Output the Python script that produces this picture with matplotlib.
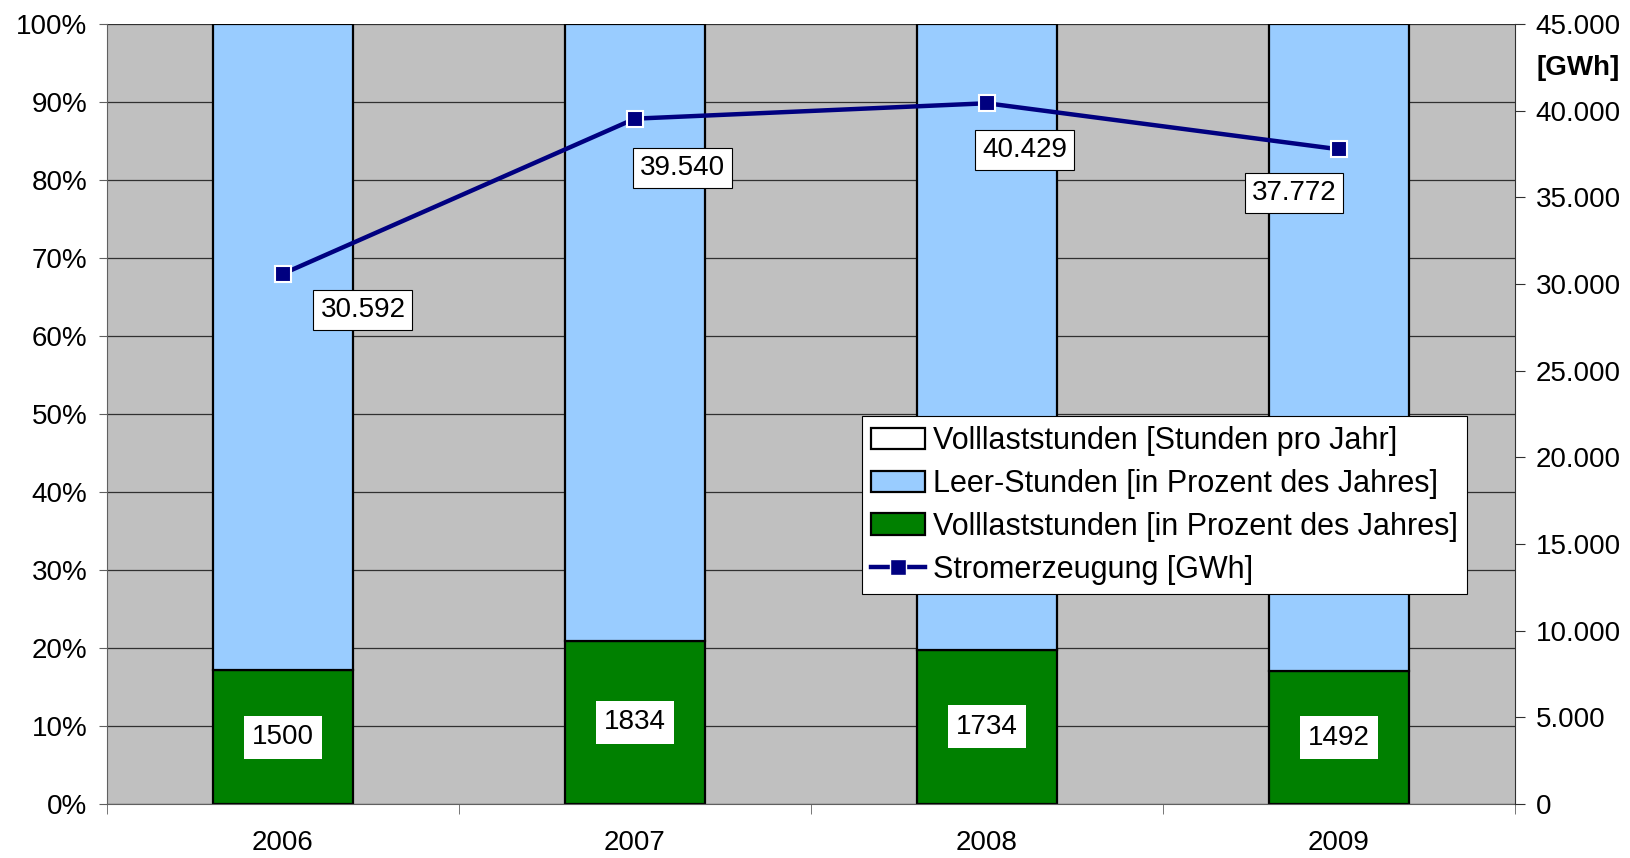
import matplotlib
matplotlib.use("Agg")
import matplotlib.pyplot as plt
from matplotlib.patches import Patch
from matplotlib.ticker import FuncFormatter, FixedLocator

plt.rcParams['font.family'] = ['Liberation Sans', 'DejaVu Sans']

# data
years = ["2006", "2007", "2008", "2009"]
vollast_hours = [1500, 1834, 1734, 1492]          # Stunden pro Jahr
hours_per_year = 8760
strom_gwh = [30592, 39540, 40429, 37772]
strom_labels = ["30.592", "39.540", "40.429", "37.772"]
# label offsets (pixels) relative to the line markers
label_offsets = [(80, -36), (48, -49), (38, -47), (-45, -44)]

vollast_pct = [h / hours_per_year * 100 for h in vollast_hours]
leer_pct = [100 - p for p in vollast_pct]

bg_color = "#C0C0C0"
blue = "#99CCFF"
green = "#008000"
navy = "#000080"
fs = 20

fig = plt.figure(figsize=(16.3, 8.58), dpi=100)
ax = fig.add_axes([0.0656, 0.0629, 0.8638, 0.9091])
ax.set_facecolor(bg_color)

x = list(range(len(years)))
bw = 0.4
ax.bar(x, vollast_pct, width=bw, color=green, edgecolor="black", linewidth=1.6, zorder=2)
ax.bar(x, leer_pct, width=bw, bottom=vollast_pct, color=blue, edgecolor="black",
       linewidth=1.6, zorder=2)

for xi, p, h in zip(x, vollast_pct, vollast_hours):
    ax.text(xi, p / 2, str(h), ha="center", va="center", fontsize=fs, zorder=4,
            bbox=dict(boxstyle="square,pad=0.3", facecolor="white", edgecolor="none"))

ax.set_xlim(-0.5, len(years) - 0.5)
ax.set_ylim(0, 100)
ax.set_yticks(range(0, 101, 10))
ax.yaxis.set_major_formatter(FuncFormatter(lambda v, _: f"{v:.0f}%"))
ax.yaxis.grid(True, color="#303030", linewidth=0.9)
ax.set_axisbelow(True)

ax.set_xticks(x)
ax.set_xticklabels(years)
ax.xaxis.set_minor_locator(FixedLocator([i - 0.5 for i in range(len(years) + 1)]))
ax.tick_params(axis="x", which="major", length=0, pad=19, labelsize=fs)
ax.tick_params(axis="x", which="minor", length=7, color="#606060")
ax.tick_params(axis="y", length=6, pad=8, labelsize=fs, color="#606060")

ax.spines["top"].set_visible(False)
ax.spines["right"].set_visible(False)
ax.spines["left"].set_color("#606060")
ax.spines["bottom"].set_color("#606060")

ax2 = ax.twinx()
ax2.plot(x, strom_gwh, color=navy, linewidth=3.2, marker="s", markersize=11,
         markerfacecolor=navy, markeredgecolor="white", markeredgewidth=1.5, zorder=5)
ax2.set_ylim(0, 45000)
ax2.set_yticks(range(0, 45001, 5000))
ax2.yaxis.set_major_formatter(FuncFormatter(lambda v, _: f"{v:,.0f}".replace(",", ".")))
ax2.tick_params(axis="y", length=7, pad=8, labelsize=fs, color="#303030")
ax2.spines["top"].set_visible(False)
ax2.spines["left"].set_visible(False)
ax2.spines["bottom"].set_visible(False)
ax2.spines["right"].set_color("#303030")

for xi, v, lab, off in zip(x, strom_gwh, strom_labels, label_offsets):
    ax2.annotate(lab, (xi, v), xytext=off, textcoords="offset pixels",
                 ha="center", va="center", fontsize=fs,
                 bbox=dict(boxstyle="square,pad=0.25", facecolor="white",
                           edgecolor="black", linewidth=0.8))

ax2.text(1.0156, 0.944, "[GWh]", transform=ax2.transAxes, fontsize=fs,
         fontweight="bold", ha="left", va="center")

handles = [
    Patch(facecolor="white", edgecolor="black", linewidth=1.6),
    Patch(facecolor=blue, edgecolor="black", linewidth=1.6),
    Patch(facecolor=green, edgecolor="black", linewidth=1.6),
    plt.Line2D([], [], color=navy, linewidth=3.2, marker="s", markersize=11,
               markerfacecolor=navy, markeredgecolor="white"),
]
labels = ["Volllaststunden [Stunden pro Jahr]",
          "Leer-Stunden [in Prozent des Jahres]",
          "Volllaststunden [in Prozent des Jahres]",
          "Stromerzeugung [GWh]"]
leg = ax2.legend(handles, labels, loc="upper left", bbox_to_anchor=(0.536, 0.497),
                 fontsize=22, frameon=True, fancybox=False, framealpha=1,
                 edgecolor="black", handlelength=1.75, handleheight=0.7,
                 handletextpad=0.25, labelspacing=0.42, borderpad=0.32,
                 borderaxespad=0)
leg.get_frame().set_linewidth(0.8)
leg.set_zorder(10)

fig.savefig("out.png", dpi=100)
